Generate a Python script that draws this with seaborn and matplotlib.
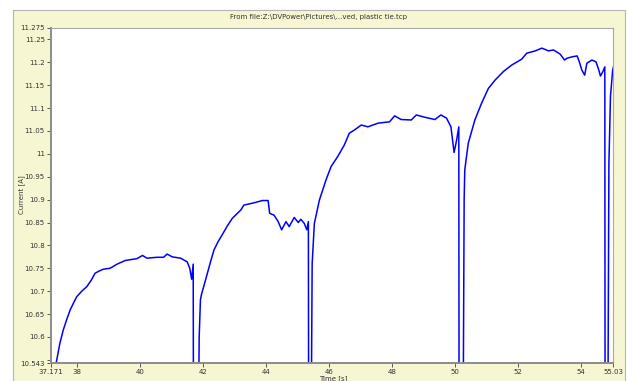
import numpy as np
import matplotlib.pyplot as plt
import seaborn as sns
from matplotlib.patches import Rectangle

# Charging cycles (time [s], current [A]).
# Values of 10.3 stand for the dips that run off the bottom of the axis.
cycle1_t = [37.30, 37.45, 37.56, 37.68, 37.78, 37.90, 37.99, 38.15, 38.31, 38.45, 38.57, 38.70,
            38.84, 39.05, 39.27, 39.53, 39.90, 40.08, 40.22, 40.54, 40.75, 40.86, 41.02, 41.29,
            41.50, 41.58, 41.64, 41.69, 41.70]
cycle1_i = [10.530, 10.585, 10.615, 10.640, 10.659, 10.676, 10.688, 10.700, 10.710, 10.724, 10.739, 10.744,
            10.748, 10.750, 10.759, 10.767, 10.771, 10.778, 10.772, 10.774, 10.774, 10.781, 10.775, 10.772,
            10.764, 10.750, 10.726, 10.759, 10.300]

cycle2_t = [41.84, 41.88, 41.92, 41.95, 42.08, 42.24, 42.35, 42.48, 42.61, 42.77, 42.93, 43.20,
            43.30, 43.62, 43.89, 44.07, 44.12, 44.26, 44.39, 44.50, 44.64, 44.74, 44.90, 45.03,
            45.11, 45.22, 45.30, 45.35, 45.36]
cycle2_i = [10.300, 10.600, 10.681, 10.692, 10.724, 10.764, 10.790, 10.808, 10.823, 10.842, 10.859, 10.877,
            10.888, 10.893, 10.898, 10.898, 10.870, 10.866, 10.852, 10.834, 10.852, 10.841, 10.861, 10.850,
            10.857, 10.848, 10.834, 10.852, 10.300]

cycle3_t = [45.43, 45.47, 45.54, 45.70, 45.91, 46.07, 46.28, 46.49, 46.65, 46.81, 47.03, 47.24,
            47.56, 47.93, 48.09, 48.30, 48.62, 48.78, 49.05, 49.37, 49.56, 49.74, 49.88, 49.98,
            50.06, 50.13, 50.14]
cycle3_i = [10.300, 10.760, 10.848, 10.899, 10.943, 10.972, 10.994, 11.019, 11.045, 11.052, 11.063, 11.059,
            11.067, 11.070, 11.083, 11.075, 11.074, 11.085, 11.080, 11.075, 11.085, 11.078, 11.059, 11.003,
            11.030, 11.059, 10.300]

cycle4_t = [50.26, 50.30, 50.32, 50.43, 50.64, 50.85, 51.07, 51.28, 51.55, 51.81, 52.13, 52.29,
            52.56, 52.77, 52.98, 53.14, 53.35, 53.49, 53.57, 53.73, 53.89, 53.96, 54.04, 54.13,
            54.20, 54.36, 54.49, 54.58, 54.63, 54.71, 54.77, 54.78]
cycle4_i = [10.300, 10.900, 10.965, 11.023, 11.074, 11.110, 11.143, 11.161, 11.180, 11.194, 11.207, 11.220,
            11.225, 11.231, 11.225, 11.227, 11.218, 11.205, 11.209, 11.212, 11.214, 11.201, 11.183, 11.172,
            11.198, 11.205, 11.201, 11.183, 11.170, 11.180, 11.190, 10.300]

cycle5_t = [54.86, 54.90, 54.95, 55.02, 55.08]
cycle5_i = [10.300, 10.979, 11.126, 11.183, 11.200]

y_ticks = [10.543, 10.6, 10.65, 10.7, 10.75, 10.8, 10.85, 10.9, 10.95, 11, 11.05, 11.1, 11.15,
           11.2, 11.25, 11.275]
y_labels = ["10.543", "10.6", "10.65", "10.7", "10.75", "10.8", "10.85", "10.9", "10.95", "11",
            "11.05", "11.1", "11.15", "11.2", "11.25", "11.275"]
x_ticks = [37.171, 38, 40, 42, 44, 46, 48, 50, 52, 54, 55.03]
x_labels = ["37.171", "38", "40", "42", "44", "46", "48", "50", "52", "54", "55.03"]

time_s = cycle1_t + cycle2_t + cycle3_t + cycle4_t + cycle5_t
current_a = cycle1_i + cycle2_i + cycle3_i + cycle4_i + cycle5_i

sns.set_style("white")
plt.rcParams["font.family"] = ["DejaVu Sans"]

fig = plt.figure(figsize=(6.27, 3.81), dpi=100)
fig.patch.set_facecolor("white")

# pale yellow panel behind the plot
fig.patches.append(Rectangle((13 / 627, -0.01), 612 / 627, (381 - 10) / 381 + 0.01,
                             transform=fig.transFigure, facecolor="#f7f6d3",
                             edgecolor="#b4b4b4", lw=0.8, zorder=-5))

ax = fig.add_axes([51 / 627, 18 / 381, 562 / 627, 335 / 381])
ax.set_zorder(2)
ax.set_facecolor("white")

sns.lineplot(x=time_s, y=current_a, ax=ax, color="#0000ff", lw=1.1,
             sort=False, estimator=None)

ax.set_xlim(37.171, 55.03)
ax.set_ylim(10.543, 11.275)
ax.set_xticks(x_ticks)
ax.set_xticklabels(x_labels)
ax.set_yticks(y_ticks)
ax.set_yticklabels(y_labels)
ax.set_yticks([10.55], minor=True)
ax.tick_params(axis="both", which="both", direction="out", length=3, width=0.7,
               color="#555555", labelsize=5, labelcolor="#333333", pad=1.5,
               bottom=True, left=True)

for side in ["left", "bottom"]:
    ax.spines[side].set_color("#8c8c8c")
    ax.spines[side].set_linewidth(1.4)
for side in ["top", "right"]:
    ax.spines[side].set_color("#a8a8a8")
    ax.spines[side].set_linewidth(0.8)

ax.set_xlabel("")
ax.set_ylabel("")
fig.text(21.5 / 627, 1 - 195 / 381, "Current [A]", rotation=90, ha="center", va="center",
         fontsize=5, color="#333333", zorder=3)
fig.text(333 / 627, 1 - 379 / 381, "Time [s]", ha="center", va="center",
         fontsize=5, color="#333333", zorder=3)
fig.text(319 / 627, 1 - 17 / 381, "From file:Z:\\DVPower\\Pictures\\...ved, plastic tie.tcp",
         ha="center", va="center", fontsize=5, color="#333333", zorder=3)

fig.savefig("out.png", dpi=100)
plt.close(fig)
